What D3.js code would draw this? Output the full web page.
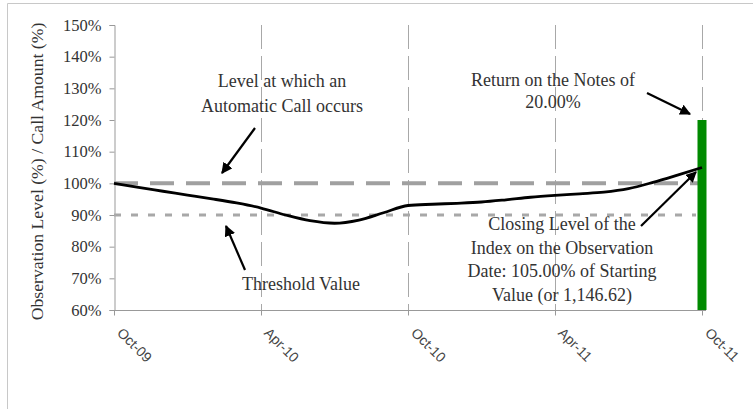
<!DOCTYPE html>
<html>
<head>
<meta charset="utf-8">
<script src="https://cdn.jsdelivr.net/npm/d3@7"></script>
<style>
  html, body { margin: 0; padding: 0; background: #fff; }
  svg { display: block; }
</style>
</head>
<body>
<svg id="chart" width="753" height="409"></svg>
<script>
// ---- data ----
const monthIndex = d3.range(0, 25); // Oct-09 .. Oct-11 monthly
const indexLevel = [100, 98.7, 97.5, 96.3, 95.1, 93.8, 92.2, 90.0, 88.2, 87.4, 88.4, 90.7,
                    93.0, 93.4, 93.7, 94.1, 94.8, 95.6, 96.2, 96.7, 97.2, 98.3, 100.3, 102.6, 105.0];
const tickMonths = [0, 6, 12, 18, 24];
const tickLabels = ["Oct-09", "Apr-10", "Oct-10", "Apr-11", "Oct-11"];
const yTicks = [60, 70, 80, 90, 100, 110, 120, 130, 140, 150];
const callLevel = 100;
const thresholdLevel = 90;
const returnMonth = 24;
const returnValue = 120;

// ---- layout ----
const svg = d3.select("#chart");
const mLeft = 114, mTop = 25, plotW = 588, plotH = 285;
const x = d3.scaleLinear().domain([0, 24]).range([mLeft, mLeft + plotW]);
const y = d3.scaleLinear().domain([60, 150]).range([mTop + plotH, mTop]);
const serif = "'Liberation Serif', 'Times New Roman', serif";
const sans = "'Liberation Sans', Arial, sans-serif";

// outer frame
svg.append("path").attr("d", "M7.5,409 L7.5,3.5 L753,3.5")
  .attr("fill", "none").attr("stroke", "#c8c8c8").attr("stroke-width", 1);

// vertical gridlines
svg.append("g").selectAll("line").data(tickMonths.slice(1)).join("line")
  .attr("x1", d => x(d) + 0.5).attr("x2", d => x(d) + 0.5)
  .attr("y1", y(150)).attr("y2", y(60))
  .attr("stroke", "#a8a8a8").attr("stroke-width", 1)
  .attr("stroke-dasharray", "24,7");

// y axis
const yAxis = svg.append("g").attr("transform", `translate(${mLeft + 0.5},0)`)
  .call(d3.axisLeft(y).tickValues(yTicks).tickFormat(d => d + "%").tickSize(5).tickPadding(8));
yAxis.select(".domain").attr("stroke", "#999");
yAxis.selectAll(".tick line").attr("stroke", "#999");
yAxis.selectAll("text").attr("font-family", serif).attr("font-size", 16.5).attr("fill", "#333");

// x axis
const xAxis = svg.append("g").attr("transform", `translate(0,${mTop + plotH + 0.5})`)
  .call(d3.axisBottom(x).tickValues(tickMonths).tickFormat((d, i) => tickLabels[i]).tickSize(5).tickSizeOuter(0));
xAxis.select(".domain").attr("stroke", "#999").attr("d", `M${mLeft},0H${mLeft + plotW + 4}`);
xAxis.selectAll(".tick line").attr("stroke", "#999");
xAxis.selectAll("text")
  .attr("font-family", sans).attr("font-size", 14).attr("fill", "#444")
  .attr("text-anchor", "start")
  .attr("transform", "translate(11,14) rotate(45)")
  .attr("dy", "0.35em");

// y axis title
svg.append("text")
  .attr("transform", `translate(43,${mTop + plotH / 2 + 4}) rotate(-90)`)
  .attr("text-anchor", "middle")
  .attr("font-family", serif).attr("font-size", 17.7).attr("fill", "#333")
  .text("Observation Level (%) / Call Amount (%)");

// call level dashed line
svg.append("line")
  .attr("x1", x(0)).attr("x2", x(24))
  .attr("y1", y(callLevel)).attr("y2", y(callLevel))
  .attr("stroke", "#a0a0a0").attr("stroke-width", 4)
  .attr("stroke-dasharray", "24,12");

// threshold dotted line
svg.append("line")
  .attr("x1", x(0)).attr("x2", x(24) - 6)
  .attr("y1", y(thresholdLevel)).attr("y2", y(thresholdLevel))
  .attr("stroke", "#a8a8a8").attr("stroke-width", 3)
  .attr("stroke-dasharray", "7,10");

// return bar
svg.append("rect")
  .attr("x", x(returnMonth) - 4.5).attr("width", 9)
  .attr("y", y(returnValue)).attr("height", y(60) - y(returnValue))
  .attr("fill", "#008a00");

// index line
const line = d3.line().x(d => x(d[0])).y(d => y(d[1])).curve(d3.curveMonotoneX);
svg.append("path")
  .datum(monthIndex.map((m, i) => [m, indexLevel[i]]))
  .attr("d", line)
  .attr("fill", "none").attr("stroke", "#000").attr("stroke-width", 2.8);

// arrows
const defs = svg.append("defs");
defs.append("marker").attr("id", "ah").attr("viewBox", "0 0 10 10")
  .attr("refX", 9).attr("refY", 5).attr("markerWidth", 5).attr("markerHeight", 5)
  .attr("orient", "auto").attr("markerUnits", "strokeWidth")
  .append("path").attr("d", "M0,0 L10,5 L0,10 z").attr("fill", "#000");
const arrows = [
  [255, 128, 222, 173],
  [245, 270, 226, 226],
  [647, 93, 690, 114],
  [641, 226, 696, 172]
];
svg.append("g").selectAll("line").data(arrows).join("line")
  .attr("x1", d => d[0]).attr("y1", d => d[1]).attr("x2", d => d[2]).attr("y2", d => d[3])
  .attr("stroke", "#000").attr("stroke-width", 2.2).attr("marker-end", "url(#ah)");

// annotations
function block(lines, cx, y0, lh) {
  const t = svg.append("text").attr("text-anchor", "middle")
    .attr("font-family", serif).attr("font-size", 18).attr("fill", "#333");
  lines.forEach((s, i) => t.append("tspan").attr("x", cx).attr("y", y0 + i * lh).text(s));
}
block(["Level at which an", "Automatic Call occurs"], 282, 87, 25);
block(["Threshold Value"], 301, 290, 0);
block(["Return on the Notes of", "20.00%"], 553, 86, 22);
block(["Closing Level of the", "Index on the Observation", "Date: 105.00% of Starting", "Value (or 1,146.62)"], 562, 230, 23.5);
</script>
</body>
</html>
